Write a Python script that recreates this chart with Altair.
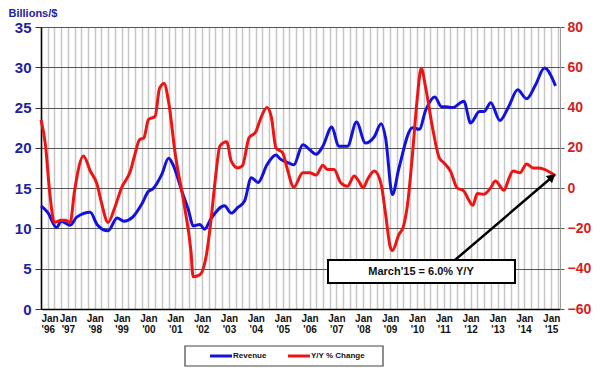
import altair as alt
import pandas as pd

# ---------------- data ----------------
series_names = ["Revenue", "Y/Y % Change"]

rev_months = [
    "1996-01", "1996-04", "1996-08", "1996-10", "1997-02", "1997-05", "1997-11",
    "1998-02", "1998-07", "1998-11", "1999-02", "1999-06", "1999-10", "2000-01",
    "2000-03", "2000-07", "2000-10", "2000-12", "2001-04", "2001-07", "2001-09",
    "2001-12", "2002-02", "2002-05", "2002-11", "2003-02", "2003-05", "2003-08",
    "2003-11", "2004-02", "2004-06", "2004-10", "2004-12", "2005-04", "2005-06",
    "2005-10", "2006-01", "2006-04", "2006-07", "2006-11", "2007-02", "2007-06",
    "2007-10", "2008-02", "2008-06", "2008-09", "2008-11", "2009-02", "2009-05",
    "2009-11", "2010-02", "2010-05", "2010-09", "2010-12", "2011-02", "2011-05",
    "2011-10", "2012-01", "2012-05", "2012-07", "2012-10", "2013-02", "2013-06",
    "2013-10", "2014-02", "2014-06", "2014-10", "2015-03",
]
rev_values = [
    12.8, 12.0, 10.1, 10.9, 10.4, 11.4, 12.0,
    10.5, 9.7, 11.3, 10.9, 11.4, 13.0, 14.6,
    14.9, 16.7, 18.7, 17.9, 14.6, 12.2, 10.3,
    10.5, 9.9, 11.2, 12.8, 11.9, 12.6, 13.4,
    16.3, 15.7, 17.9, 19.1, 18.6, 18.1, 17.9,
    20.4, 19.8, 19.2, 20.2, 22.6, 20.2, 20.2,
    23.2, 20.6, 21.4, 23.0, 21.2, 14.2, 17.5,
    22.5, 22.3, 24.7, 26.3, 25.1, 25.1, 25.0,
    25.8, 23.1, 24.5, 24.5, 25.6, 23.4, 25.1,
    27.2, 26.1, 27.8, 29.9, 27.7,
]

yoy_months = [
    "1996-01", "1996-03", "1996-05", "1996-07", "1996-10", "1996-12", "1997-02",
    "1997-04", "1997-08", "1997-11", "1998-02", "1998-04", "1998-07", "1998-10",
    "1999-01", "1999-05", "1999-07", "1999-09", "1999-11", "2000-01", "2000-04",
    "2000-06", "2000-08", "2000-10", "2001-01", "2001-05", "2001-08", "2001-09",
    "2001-12", "2002-03", "2002-05", "2002-07", "2002-09", "2002-12", "2003-02",
    "2003-05", "2003-07", "2003-10", "2004-01", "2004-03", "2004-06", "2004-08",
    "2004-10", "2005-01", "2005-03", "2005-06", "2005-10", "2006-01", "2006-04",
    "2006-07", "2006-09", "2006-12", "2007-03", "2007-06", "2007-09", "2007-11",
    "2008-01", "2008-03", "2008-06", "2008-09", "2008-11", "2009-01", "2009-02",
    "2009-05", "2009-07", "2009-09", "2009-11", "2010-01", "2010-03", "2010-05",
    "2010-08", "2010-11", "2011-01", "2011-04", "2011-07", "2011-10", "2011-12",
    "2012-02", "2012-04", "2012-07", "2012-10", "2012-12", "2013-04", "2013-06",
    "2013-08", "2013-11", "2014-02", "2014-05", "2014-07", "2014-10", "2015-03",
]
yoy_values = [
    34, 21.6, -3, -17, -16, -16, -17,
    -1.4, 16, 8.5, 2, -7, -17, -9.6,
    0.2, 8.5, 16.7, 24, 25, 34, 35.6,
    49.6, 52, 43, 16.7, -8, -31, -44,
    -43, -33, -16, 5, 21, 23, 13.4,
    10, 11, 25, 28, 34, 40, 35,
    20, 17.5, 10, 0.5, 7.6, 7.6, 6.5,
    11.4, 9.3, 9.3, 2.7, 1, 6, 3.5,
    0.2, 4.4, 8.5, 1.9, -13, -29, -31,
    -23, -19, -6.3, 16.7, 43, 59.5, 49.6,
    30, 15, 12.6, 8.5, 0.2, -1.4, -5.5,
    -8.5, -2.7, -3, 0.2, 3.5, -1, 4.4,
    8.5, 7.6, 12, 10, 10, 9.3, 6.0,
]

left_ticks = [0, 5, 10, 15, 20, 25, 30, 35]
right_ticks = [-60, -40, -20, 0, 20, 40, 60, 80]
annotation_text = "March'15 = 6.0% Y/Y"

# ---------------- styling ----------------
FONT = "Liberation Sans"
BLUE = "#1212DC"
RED = "#EE1414"
NAVY = "#22229E"
RED_LABEL = "#D41E1E"

rev_df = pd.DataFrame({
    "date": [m + "-01" for m in rev_months],
    "value": rev_values,
    "series": series_names[0],
})
yoy_df = pd.DataFrame({
    "date": [m + "-01" for m in yoy_months],
    "value": yoy_values,
    "series": series_names[1],
})

x_scale = alt.Scale(
    type="utc",
    domain=[alt.DateTime(year=1996, month=1, date=1, utc=True),
            alt.DateTime(year=2015, month=5, date=1, utc=True)],
)
x_axis = alt.Axis(
    title=None,
    tickCount={"interval": "month", "step": 3},
    labelExpr="utcmonth(datum.value) == 0 ? ['Jan', \"'\" + utcFormat(datum.value, '%y')] : ''",
    labelOverlap=False,
    ticks=False,
    grid=True,
    gridColor="#c6c6c6",
    gridWidth=1.5,
    domainColor="#000000",
    domainWidth=1.5,
    labelFont=FONT,
    labelFontSize=10,
    labelFontWeight="bold",
    labelColor="#111111",
    labelLineHeight=11,
    labelPadding=4,
)

color_scale = alt.Scale(domain=series_names, range=[BLUE, RED])

rev_line = alt.Chart(rev_df).mark_line(strokeWidth=3, interpolate="monotone").encode(
    x=alt.X("date:T", scale=x_scale, axis=x_axis),
    y=alt.Y(
        "value:Q",
        scale=alt.Scale(domain=[0, 35], nice=False),
        axis=alt.Axis(
            orient="left",
            values=left_ticks,
            title="Billions/$",
            titleAngle=0,
            titleAlign="left",
            titleBaseline="alphabetic",
            titleX=-33,
            titleY=-11,
            titleFont=FONT,
            titleFontSize=11,
            titleFontWeight="bold",
            titleColor=NAVY,
            labelFont=FONT,
            labelFontSize=15,
            labelFontWeight="bold",
            labelColor=NAVY,
            labelPadding=4,
            tickSize=6,
            tickColor="#333333",
            domainColor="#000000",
            domainWidth=1.5,
            grid=True,
            gridColor="#555555",
            gridWidth=1.2,
        ),
    ),
    color=alt.Color("series:N", scale=color_scale, legend=None),
)

yoy_line = alt.Chart(yoy_df).mark_line(strokeWidth=3, interpolate="monotone").encode(
    x=alt.X("date:T", scale=x_scale, axis=x_axis),
    y=alt.Y(
        "value:Q",
        scale=alt.Scale(domain=[-60, 80], nice=False),
        axis=alt.Axis(
            orient="right",
            values=right_ticks,
            title=None,
            labelFont=FONT,
            labelFontSize=14,
            labelFontWeight="bold",
            labelColor=RED_LABEL,
            labelPadding=3,
            tickSize=4,
            tickColor="#555555",
            domainColor="#999999",
            grid=False,
        ),
    ),
    color=alt.Color("series:N", scale=color_scale, legend=None),
)

# ---- annotation box and arrow ----
ann_df = pd.DataFrame({"label": [annotation_text]})
box = alt.Chart(ann_df).mark_rect(fill="white", stroke="black", strokeWidth=2).encode(
    x=alt.value(287), x2=alt.value(474), y=alt.value(233), y2=alt.value(256)
)
box_text = alt.Chart(ann_df).mark_text(
    font=FONT, fontSize=11, fontWeight="bold", color="#111111"
).encode(x=alt.value(380), y=alt.value(245), text="label:N")
arrow = alt.Chart(ann_df).mark_rule(stroke="black", strokeWidth=2.5).encode(
    x=alt.value(414), y=alt.value(233), x2=alt.value(510), y2=alt.value(151)
)
arrow_head = alt.Chart(ann_df).mark_point(
    shape="triangle-up", filled=True, color="black", opacity=1, size=90, angle=49
).encode(x=alt.value(511), y=alt.value(150))

# ---- legend (drawn below the plot, in a framed box) ----
leg_df = pd.DataFrame({"series": series_names})
leg_box = alt.Chart(pd.DataFrame({"k": [0]})).mark_rect(
    fill="white", stroke="#444444", strokeWidth=1.2
).encode(x=alt.value(144), x2=alt.value(342), y=alt.value(319), y2=alt.value(339))
leg_rev_line = alt.Chart(leg_df.iloc[[0]]).mark_rule(strokeWidth=3).encode(
    x=alt.value(169), x2=alt.value(191), y=alt.value(329),
    color=alt.Color("series:N", scale=color_scale, legend=None),
)
leg_yoy_line = alt.Chart(leg_df.iloc[[1]]).mark_rule(strokeWidth=3).encode(
    x=alt.value(247), x2=alt.value(269), y=alt.value(329),
    color=alt.Color("series:N", scale=color_scale, legend=None),
)
leg_rev_text = alt.Chart(leg_df.iloc[[0]]).mark_text(
    font=FONT, fontSize=8, fontWeight="bold", color="#111111", align="left", baseline="middle"
).encode(x=alt.value(192), y=alt.value(329), text="series:N")
leg_yoy_text = alt.Chart(leg_df.iloc[[1]]).mark_text(
    font=FONT, fontSize=8, fontWeight="bold", color="#111111", align="left", baseline="middle"
).encode(x=alt.value(270), y=alt.value(329), text="series:N")

lines = alt.layer(rev_line, yoy_line).resolve_scale(y="independent")

chart = alt.layer(
    lines, box, box_text, arrow, arrow_head,
    leg_box, leg_rev_line, leg_yoy_line, leg_rev_text, leg_yoy_text,
).properties(
    width=519,
    height=282,
    autosize=alt.AutoSizeParams(type="none"),
    padding={"left": 33, "top": 19, "right": 32, "bottom": 60},
    background="white",
).configure_view(strokeWidth=0)

chart.save("out.html", embed_options={"renderer": "svg", "actions": False})
